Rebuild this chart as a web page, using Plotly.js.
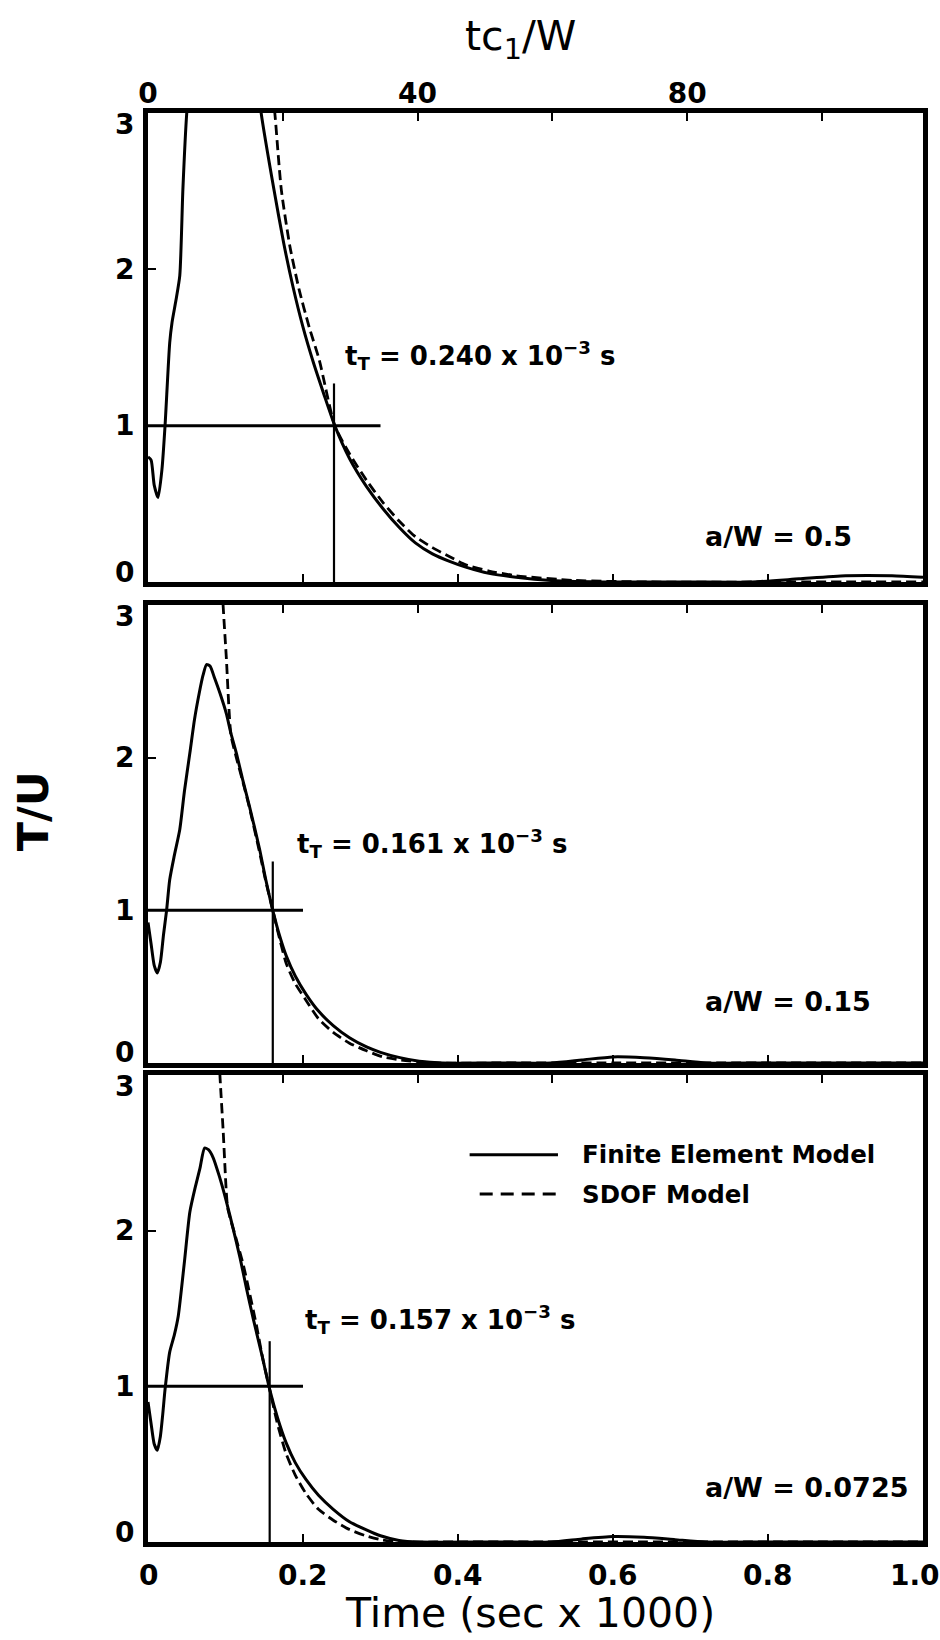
<!DOCTYPE html>
<html>
<head>
<meta charset="utf-8">
<script src="https://cdn.plot.ly/plotly-3.0.1.min.js"></script>
<style>html,body{margin:0;padding:0;background:#fff;}#chart{width:940px;height:1640px;}</style>
</head>
<body>
<div id="chart"></div>
<script>
// ---------- data (time in sec x 1000, T/U) ----------
// Panel 1: a/W = 0.5
const feTime1 = [0, 0.004, 0.008, 0.013, 0.018, 0.022, 0.028, 0.031, 0.036, 0.041, 0.045, 0.050, 0.065, 0.080, 0.095, 0.110, 0.125, 0.138, 0.146, 0.1625, 0.175, 0.187, 0.200, 0.213, 0.227, 0.241, 0.260, 0.282, 0.303, 0.324, 0.345, 0.367, 0.390, 0.410, 0.440, 0.475, 0.520, 0.600, 0.700, 0.780, 0.840, 0.900, 0.960, 1.000];
const feTU1   = [0.80, 0.78, 0.62, 0.54, 0.72, 1.00, 1.53, 1.66, 1.80, 1.96, 2.51, 3.00, 3.80, 4.30, 4.40, 4.20, 3.80, 3.35, 3.00, 2.51, 2.17, 1.89, 1.63, 1.41, 1.20, 1.00, 0.79, 0.61, 0.47, 0.35, 0.25, 0.18, 0.13, 0.095, 0.055, 0.03, 0.01, 0.0, 0.0, 0.0, 0.02, 0.04, 0.04, 0.03];
const sdofTime1 = [0.156, 0.164, 0.172, 0.183, 0.195, 0.208, 0.221, 0.241, 0.260, 0.282, 0.303, 0.324, 0.345, 0.367, 0.390, 0.410, 0.440, 0.475, 0.550, 0.650, 0.800, 1.000];
const sdofTU1   = [3.40, 2.98, 2.51, 2.15, 1.87, 1.63, 1.42, 1.00, 0.82, 0.65, 0.51, 0.39, 0.29, 0.22, 0.16, 0.11, 0.07, 0.04, 0.01, 0.0, 0.0, 0.0];

// Panel 2: a/W = 0.15
const feTime2 = [0, 0.004, 0.008, 0.012, 0.016, 0.020, 0.024, 0.028, 0.034, 0.041, 0.047, 0.054, 0.060, 0.066, 0.071, 0.0755, 0.080, 0.086, 0.093, 0.101, 0.107, 0.114, 0.122, 0.131, 0.144, 0.152, 0.161, 0.170, 0.1785, 0.190, 0.204, 0.220, 0.239, 0.260, 0.282, 0.300, 0.325, 0.350, 0.380, 0.450, 0.520, 0.560, 0.600, 0.640, 0.680, 0.720, 0.800, 1.000];
const feTU2   = [0.92, 0.78, 0.64, 0.59, 0.66, 0.84, 1.00, 1.20, 1.36, 1.53, 1.78, 2.03, 2.25, 2.42, 2.54, 2.61, 2.60, 2.52, 2.42, 2.29, 2.16, 2.03, 1.86, 1.68, 1.40, 1.20, 1.00, 0.83, 0.70, 0.57, 0.45, 0.34, 0.245, 0.165, 0.105, 0.07, 0.035, 0.012, 0.0, 0.0, 0.0, 0.02, 0.04, 0.035, 0.02, 0.0, 0.0, 0.0];
const sdofTime2 = [0.094, 0.097, 0.101, 0.107, 0.114, 0.122, 0.131, 0.144, 0.152, 0.161, 0.170, 0.1785, 0.190, 0.204, 0.220, 0.239, 0.260, 0.282, 0.303, 0.325, 0.370, 0.450, 0.600, 1.000];
const sdofTU2   = [3.30, 2.99, 2.66, 2.15, 2.00, 1.85, 1.67, 1.38, 1.19, 1.00, 0.81, 0.65, 0.52, 0.41, 0.29, 0.20, 0.13, 0.08, 0.04, 0.02, 0.0, 0.0, 0.0, 0.0];

// Panel 3: a/W = 0.0725
const feTime3 = [0, 0.004, 0.008, 0.012, 0.016, 0.019, 0.022, 0.028, 0.034, 0.039, 0.047, 0.054, 0.061, 0.067, 0.073, 0.078, 0.084, 0.092, 0.101, 0.110, 0.119, 0.127, 0.136, 0.147, 0.157, 0.167, 0.178, 0.190, 0.204, 0.220, 0.239, 0.260, 0.281, 0.300, 0.324, 0.350, 0.450, 0.520, 0.560, 0.600, 0.640, 0.680, 0.720, 0.800, 1.000];
const feTU3   = [0.90, 0.76, 0.63, 0.59, 0.68, 0.82, 0.98, 1.22, 1.33, 1.45, 1.80, 2.12, 2.28, 2.40, 2.53, 2.52, 2.47, 2.35, 2.19, 2.01, 1.82, 1.63, 1.43, 1.20, 0.98, 0.80, 0.64, 0.51, 0.40, 0.30, 0.21, 0.13, 0.08, 0.04, 0.01, 0.0, 0.0, 0.0, 0.02, 0.035, 0.03, 0.015, 0.0, 0.0, 0.0];
const sdofTime3 = [0.090, 0.093, 0.097, 0.101, 0.103, 0.113, 0.123, 0.131, 0.140, 0.148, 0.157, 0.167, 0.178, 0.190, 0.204, 0.220, 0.239, 0.260, 0.281, 0.300, 0.324, 0.370, 0.500, 1.000];
const sdofTU3   = [3.30, 2.98, 2.64, 2.25, 2.14, 1.96, 1.78, 1.60, 1.39, 1.18, 0.98, 0.76, 0.57, 0.43, 0.31, 0.21, 0.14, 0.08, 0.04, 0.015, 0.0, 0.0, 0.0, 0.0];

// transition-time markers per panel
const crackRatio   = ['0.5', '0.15', '0.0725'];
const tTLabel      = ['0.240', '0.161', '0.157'];
const tT           = [0.240, 0.161, 0.157];
const unitLineEnd  = [0.30, 0.20, 0.20];
const markerTop    = [1.27, 1.32, 1.29];
const unitLevel    = 1;

// axis ticks
const timeTicks    = [0, 0.2, 0.4, 0.6, 0.8, 1.0];
const timeTickText = ['0', '0.2', '0.4', '0.6', '0.8', '1.0'];
const tcLabelTicks = [0, 40, 80];
const tcLabelText  = ['0', '40', '80'];
const tcAllTicks   = [20, 40, 60, 80, 100];
const tcMinorTicks = [20, 60, 100];
const tuTicks      = [0, 1, 2, 3];
const tuTickText   = ['0', '1', '2', '3'];
const legendNames  = ['Finite Element Model', 'SDOF Model'];

// ---------- build ----------
const FONT = 'DejaVu Sans';
const feSeries   = [[feTime1, feTU1], [feTime2, feTU2], [feTime3, feTU3]];
const sdofSeries = [[sdofTime1, sdofTU1], [sdofTime2, sdofTU2], [sdofTime3, sdofTU3]];
const DASH = '10px,5px';
const axX = ['x', 'x2', 'x3'];
const axY = ['y', 'y2', 'y3'];
const axTop = ['x4', 'x5', 'x6'];

const traces = [];
const annotations = [];
for (let i = 0; i < 3; i++) {
  const xa = axX[i], ya = axY[i];
  traces.push({x: feSeries[i][0], y: feSeries[i][1], xaxis: xa, yaxis: ya, mode: 'lines',
    name: legendNames[0], showlegend: false,
    line: {color: '#000', width: 3, shape: 'spline', smoothing: 0.6}});
  traces.push({x: sdofSeries[i][0], y: sdofSeries[i][1], xaxis: xa, yaxis: ya, mode: 'lines',
    name: legendNames[1], showlegend: false,
    line: {color: '#000', width: 2.8, dash: DASH, shape: 'spline', smoothing: 0.6}});
  traces.push({x: [0, unitLineEnd[i]], y: [unitLevel, unitLevel], xaxis: xa, yaxis: ya, mode: 'lines',
    showlegend: false, hoverinfo: 'skip', line: {color: '#000', width: 3}});
  traces.push({x: [tT[i], tT[i]], y: [0, markerTop[i]], xaxis: xa, yaxis: ya, mode: 'lines',
    showlegend: false, hoverinfo: 'skip', line: {color: '#000', width: 2.2}});
  // empty trace so the tc1/W axis of this panel is drawn
  traces.push({x: [], y: [], xaxis: axTop[i], yaxis: ya, mode: 'lines', showlegend: false, hoverinfo: 'skip'});
}

const labelFont = {family: FONT, size: 26, color: '#000', weight: 'bold'};
const tickFont = {family: FONT, size: 28, color: '#000', weight: 'bold'};
const tTpos = [[0.252, 1.45], [0.190, 1.44], [0.200, 1.43]];
const awPos = [[0.716, 0.29], [0.716, 0.40], [0.716, 0.35]];
for (let i = 0; i < 3; i++) {
  const xa = axX[i], ya = axY[i];
  annotations.push({xref: xa, yref: ya, x: tTpos[i][0], y: tTpos[i][1], xanchor: 'left', yanchor: 'middle',
    showarrow: false, text: 't<sub>T</sub> = ' + tTLabel[i] + ' x 10<sup>\u22123</sup> s', font: labelFont});
  annotations.push({xref: xa, yref: ya, x: awPos[i][0], y: awPos[i][1], xanchor: 'left', yanchor: 'middle',
    showarrow: false, text: 'a/W = ' + crackRatio[i], font: {family: FONT, size: 27, color: '#000', weight: 'bold'}});
  // y tick labels (end labels pulled inward as in the original)
  tuTicks.forEach((v, k) => {
    annotations.push({xref: xa + ' domain', yref: ya, x: 0, y: v, xanchor: 'right', yanchor: 'middle',
      xshift: -12, yshift: v === 0 ? 10 : (v === 3 ? -11 : 0),
      showarrow: false, text: tuTickText[k], font: tickFont});
  });
}
// bottom time tick labels
timeTicks.forEach((v, k) => {
  annotations.push({xref: 'x3', yref: 'y3 domain', x: v, y: 0, xanchor: 'center', yanchor: 'middle',
    xshift: k === timeTicks.length - 1 ? -8 : 0, yshift: -33,
    showarrow: false, text: timeTickText[k], font: tickFont});
});
// legend (drawn in panel 3)
annotations.push({xref: 'x3 domain', yref: 'y3 domain', x: 0.557, y: 0.829, xanchor: 'left', yanchor: 'middle',
  showarrow: false, text: legendNames[0], font: {family: FONT, size: 24.5, color: '#000', weight: 'bold'}});
annotations.push({xref: 'x3 domain', yref: 'y3 domain', x: 0.557, y: 0.745, xanchor: 'left', yanchor: 'middle',
  showarrow: false, text: legendNames[1], font: {family: FONT, size: 24.5, color: '#000', weight: 'bold'}});
const shapes = [
  {type: 'line', xref: 'x3 domain', yref: 'y3 domain', x0: 0.415, x1: 0.529, y0: 0.829, y1: 0.829, line: {color: '#000', width: 3}},
  {type: 'line', xref: 'x3 domain', yref: 'y3 domain', x0: 0.428, x1: 0.529, y0: 0.745, y1: 0.745, line: {color: '#000', width: 3, dash: '13px,8px'}}
];
// axis titles
annotations.push({xref: 'paper', yref: 'paper', x: 0.493, y: -0.0495, xanchor: 'center', yanchor: 'middle',
  showarrow: false, text: 'Time (sec x 1000)', font: {family: FONT, size: 41, color: '#000'}});
annotations.push({xref: 'paper', yref: 'paper', x: 0.481, y: 1.052, xanchor: 'center', yanchor: 'middle',
  showarrow: false, text: 'tc<sub>1</sub>/W', font: {family: FONT, size: 41, color: '#000'}});
annotations.push({xref: 'paper', yref: 'paper', x: -0.148, y: 0.5115, xanchor: 'center', yanchor: 'middle',
  showarrow: false, textangle: -90, text: 'T/U', font: {family: FONT, size: 43, color: '#000', weight: 'bold'}});

function timeAxis(anchor) {
  return {anchor: anchor, range: [0, 1.0], tickvals: timeTicks, ticktext: timeTickText,
    showticklabels: false, ticks: 'inside', ticklen: 8, tickwidth: 2, tickcolor: '#000',
    showline: true, linewidth: 5, linecolor: '#000', mirror: true, showgrid: false, zeroline: false,
    fixedrange: true};
}
function tcAxis(over, anchor, labels) {
  const a = {overlaying: over, anchor: anchor, side: 'top', range: [0, 115],
    ticks: 'inside', ticklen: 8, tickwidth: 2, tickcolor: '#000',
    showline: false, showgrid: false, zeroline: false, tickfont: tickFont, ticklabelstandoff: 3, fixedrange: true};
  if (labels) {
    a.tickvals = tcLabelTicks; a.ticktext = tcLabelText; a.showticklabels = true;
    a.minor = {tickmode: 'array', tickvals: tcMinorTicks, ticks: 'inside', ticklen: 8, tickwidth: 2, tickcolor: '#000', showgrid: false};
  } else {
    a.tickvals = tcAllTicks; a.showticklabels = false;
  }
  return a;
}
function tuAxis(anchor, domain) {
  return {anchor: anchor, domain: domain, range: [0, 3], tickvals: tuTicks,
    showticklabels: false, ticks: 'inside', ticklen: 8, tickwidth: 2, tickcolor: '#000',
    showline: true, linewidth: 5, linecolor: '#000', mirror: true, showgrid: false, zeroline: false,
    fixedrange: true};
}

const layout = {
  width: 940, height: 1640,
  margin: {l: 148, r: 17, t: 113, b: 98},
  paper_bgcolor: '#fff', plot_bgcolor: '#fff',
  showlegend: false,
  xaxis: timeAxis('y'),
  xaxis2: timeAxis('y2'),
  xaxis3: timeAxis('y3'),
  xaxis4: tcAxis('x', 'y', true),
  xaxis5: tcAxis('x2', 'y2', false),
  xaxis6: tcAxis('x3', 'y3', false),
  yaxis: tuAxis('x', [0.6718, 1.0]),
  yaxis2: tuAxis('x2', [0.3352, 0.6557]),
  yaxis3: tuAxis('x3', [0.0, 0.3268]),
  annotations: annotations,
  shapes: shapes
};

Plotly.newPlot('chart', traces, layout, {staticPlot: true, displayModeBar: false});
</script>
</body>
</html>
